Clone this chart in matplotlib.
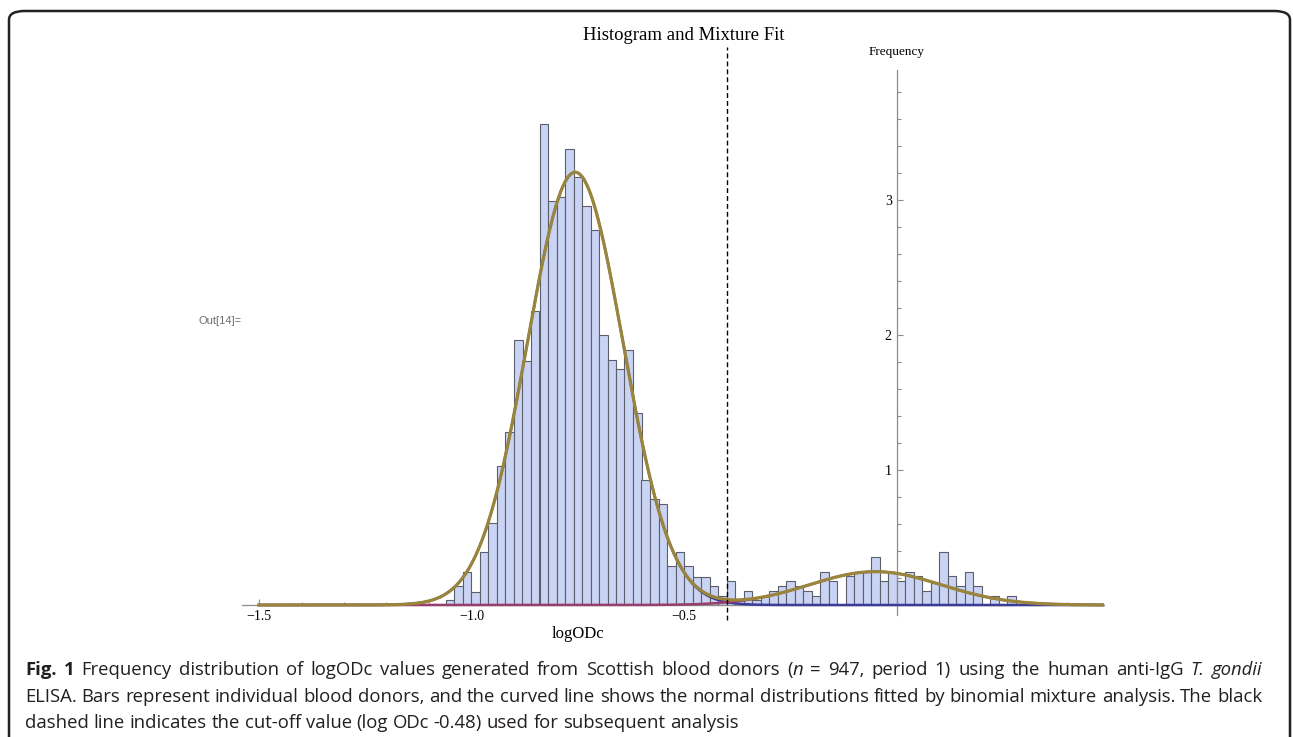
import numpy as np
import matplotlib
matplotlib.use("Agg")
import matplotlib.pyplot as plt
from matplotlib.patches import FancyBboxPatch

# histogram: bin left edges start at -1.06, bin width 0.02
bin_start = -1.06
bin_width = 0.02
freq = [0.037, 0.14, 0.247, 0.10, 0.39, 0.605, 1.03, 1.28, 1.96, 1.81,
        2.175, 3.56, 2.995, 3.02, 3.38, 3.17, 2.955, 2.78, 2.0, 1.815,
        1.746, 1.89, 1.425, 0.926, 0.785, 0.746, 0.289, 0.39, 0.289, 0.21,
        0.21, 0.14, 0.067, 0.178, 0.037, 0.104, 0.037, 0.067, 0.104, 0.14,
        0.178, 0.14, 0.104, 0.067, 0.247, 0.178, 0.0, 0.212, 0.247, 0.247,
        0.353, 0.178, 0.247, 0.178, 0.247, 0.212, 0.104, 0.16, 0.39, 0.212,
        0.14, 0.247, 0.14, 0.0, 0.067, 0.0, 0.067]

# fitted two-component normal mixture
mix_mu = [-0.756, -0.05]
mix_sd = [0.1125, 0.155]
mix_w = [0.904, 0.096]
cutoff = -0.40

W, H = 1293, 737
fig = plt.figure(figsize=(W / 100, H / 100), dpi=100)

def fx(px):
    return px / W

def fy(py):
    return 1 - py / H

serif = "Liberation Serif"

# outer rounded frame (bottom runs off the page)
frame = FancyBboxPatch((fx(9), fy(800)), fx(1290) - fx(9), fy(11) - fy(800),
                       boxstyle="round,pad=0,rounding_size=0.012",
                       transform=fig.transFigure, fill=False,
                       edgecolor="#222222", linewidth=1.8)
fig.patches.append(frame)

# axes box in pixels, scale 425 px per x unit, 135 px per y unit
x0_px, y0_px = 259, 605          # pixel of (-1.5, 0)
ax_l, ax_r, ax_t, ax_b = 238, 1112, 40, 628
ax = fig.add_axes([fx(ax_l), fy(ax_b), fx(ax_r) - fx(ax_l), fy(ax_t) - fy(ax_b)])
ax.set_xlim(-1.5 + (ax_l - x0_px) / 425, -1.5 + (ax_r - x0_px) / 425)
ax.set_ylim((y0_px - ax_b) / 135, (y0_px - ax_t) / 135)
ax.patch.set_alpha(0)

edges = bin_start + bin_width * np.arange(len(freq))
ax.bar(edges, freq, width=bin_width, align="edge", color="#c9d3f3",
       edgecolor="#5c5f6a", linewidth=0.8, zorder=2)

xs = np.linspace(-1.5, 0.485, 800)
comps = [w / (s * np.sqrt(2 * np.pi)) * np.exp(-0.5 * ((xs - m) / s) ** 2)
         for m, s, w in zip(mix_mu, mix_sd, mix_w)]
ax.plot(xs, comps[0], color="#3d3d99", lw=1.8, zorder=3)
ax.plot(xs, comps[1], color="#993d6c", lw=1.8, zorder=4)
ax.plot(xs, comps[0] + comps[1], color="#9a853d", lw=2.3, zorder=5)

ax.plot([cutoff, cutoff], [-0.11, 4.13], color="black", lw=1.0,
        dashes=(3.5, 2.2), zorder=6)

# axes through the origin, Mathematica style
for side in ["top", "right"]:
    ax.spines[side].set_visible(False)
ax.spines["bottom"].set_position(("data", 0))
ax.spines["left"].set_position(("data", 0))
ax.spines["bottom"].set_bounds(-1.541, 0.488)
ax.spines["left"].set_bounds(-0.074, 3.963)
for side in ["bottom", "left"]:
    ax.spines[side].set_color("#8c8c8c")
    ax.spines[side].set_linewidth(0.9)

ax.set_xticks([-1.5, -1.0, -0.5])
ax.set_xticklabels(["\u22121.5", "\u22121.0", "\u22120.5"])
ax.set_xticks([-1.4, -1.3, -1.2, -1.1, -0.9, -0.8, -0.7, -0.6, -0.4, -0.3,
               -0.2, -0.1, 0.1, 0.2, 0.3, 0.4], minor=True)
ax.set_yticks([1, 2, 3])
ax.set_yticks([0.2, 0.4, 0.6, 0.8, 1.2, 1.4, 1.6, 1.8, 2.2, 2.4, 2.6, 2.8,
               3.2, 3.4, 3.6, 3.8], minor=True)
ax.tick_params(axis="both", which="both", direction="in", color="#8c8c8c",
               width=0.8, labelsize=10)
ax.tick_params(axis="x", which="major", length=4, pad=3.5)
ax.tick_params(axis="x", which="minor", length=2.5)
ax.tick_params(axis="y", which="major", length=4.5, pad=3.5)
ax.tick_params(axis="y", which="minor", length=2.8)
for lab in ax.get_xticklabels() + ax.get_yticklabels():
    lab.set_family(serif)

ax.text(0, (y0_px - 52) / 135, "Frequency", ha="center", va="center",
        family=serif, fontsize=9.5)

fig.text(fx(684), fy(35), "Histogram and Mixture Fit", ha="center",
         va="center", family=serif, fontsize=13.5)
fig.text(fx(578), fy(634), "logODc", ha="center", va="center",
         family=serif, fontsize=12)
fig.text(fx(220), fy(321), "Out[14]=", ha="center", va="center",
         family="Liberation Sans", fontsize=8, color="#6e6e6e")

# caption: justified lines, drawn word by word so bold/italic sit inline
cap_font = "Open Sans"
cap_size = 13.3
cap_color = "#231f20"
cap_lines = [
    [("Fig. 1", "normal", "bold"),
     (" Frequency distribution of logODc values generated from Scottish "
      "blood donors (", "normal", "normal"),
     ("n", "italic", "normal"),
     (" = 947, period 1) using the human anti-IgG ", "normal", "normal"),
     ("T. gondii", "italic", "normal")],
    [("ELISA. Bars represent individual blood donors, and the curved line "
      "shows the normal distributions fitted by binomial mixture analysis. "
      "The black", "normal", "normal")],
    [("dashed line indicates the cut-off value (log ODc -0.48) used for "
      "subsequent analysis", "normal", "normal")],
]
cap_left, cap_right = 25.0, 1262.0

renderer = fig.canvas.get_renderer()

def text_w(s, style="normal", weight="normal"):
    t = fig.text(0, 0, s, family=cap_font, fontsize=cap_size, style=style,
                 weight=weight)
    w = t.get_window_extent(renderer).width
    t.remove()
    return w

space_w = text_w("a a") - text_w("aa")

for i, pieces in enumerate(cap_lines):
    tokens, cur = [], []
    for s, style, weight in pieces:
        for k, p in enumerate(s.split(" ")):
            if k > 0 and cur:
                tokens.append(cur)
                cur = []
            if p:
                cur.append((p, style, weight))
    if cur:
        tokens.append(cur)
    widths = [[text_w(*part) for part in tok] for tok in tokens]
    total = sum(sum(w) for w in widths)
    last = i == len(cap_lines) - 1
    gap = space_w if last else (cap_right - cap_left - total) / (len(tokens) - 1)
    x = cap_left
    y = 675 + 26.5 * i
    for tok, ws in zip(tokens, widths):
        for (p, style, weight), w in zip(tok, ws):
            fig.text(fx(x), fy(y), p, ha="left", va="baseline",
                     family=cap_font, fontsize=cap_size, style=style,
                     weight=weight, color=cap_color)
            x += w
        x += gap

fig.savefig("out.png", dpi=100)
